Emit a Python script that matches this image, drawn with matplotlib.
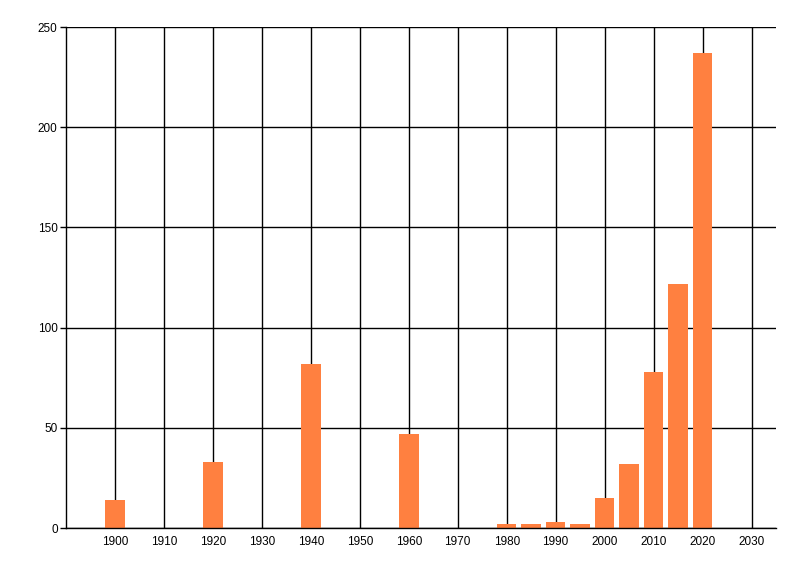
import numpy as np
import matplotlib
matplotlib.use('Agg')
import matplotlib.pyplot as plt

# data
years = [1900, 1920, 1940, 1960, 1980, 1985, 1990, 1995, 2000, 2005, 2010, 2015, 2020]
counts = [14, 33, 82, 47, 2, 2, 3, 2, 15, 32, 78, 122, 237]
x_ticks = list(range(1900, 2031, 10))
y_ticks = [0, 50, 100, 150, 200, 250]

plt.rcParams['font.family'] = ['Liberation Sans', 'DejaVu Sans']

fig = plt.figure(figsize=(8, 5.76), dpi=100)
ax = fig.add_axes([0.0825, 0.0833, 0.8875, 0.8697])

ax.bar(years, counts, width=4, color='#ff8040', zorder=3)

ax.set_xlim(1890, 2035)
ax.set_ylim(0, 250)
ax.set_xticks(x_ticks)
ax.set_yticks(y_ticks)
ax.grid(True, color='black', linewidth=1, zorder=0)
ax.set_axisbelow(True)

for side in ['top', 'right']:
    ax.spines[side].set_visible(False)
for side in ['left', 'bottom']:
    ax.spines[side].set_linewidth(1)
    ax.spines[side].set_zorder(4)

ax.tick_params(axis='x', length=0, pad=6, labelsize=8.5)
ax.tick_params(axis='y', length=4, width=1, pad=2, labelsize=8.5)

fig.savefig('out.png', dpi=100)
